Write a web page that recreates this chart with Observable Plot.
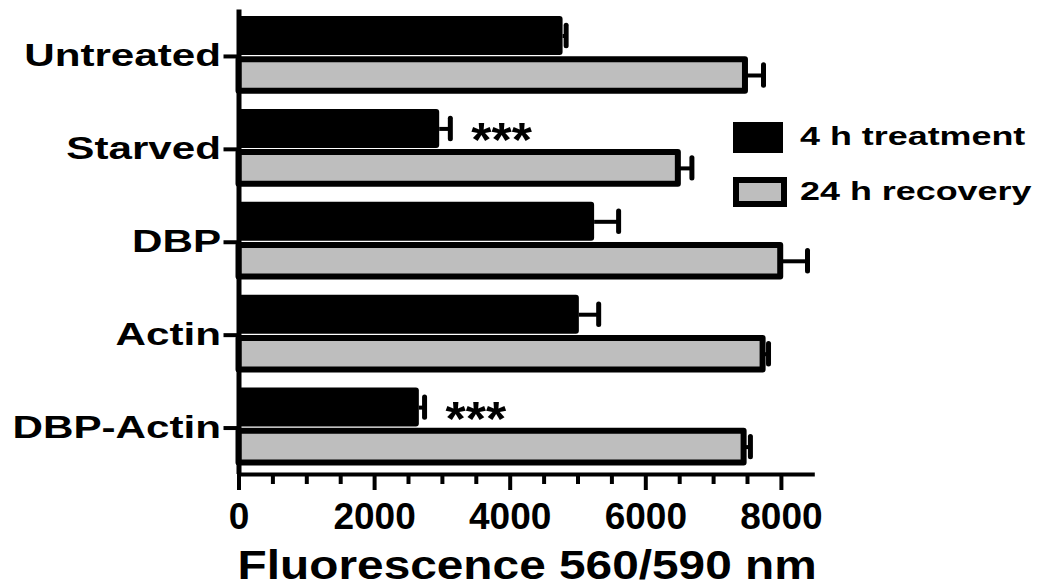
<!DOCTYPE html>
<html><head><meta charset="utf-8">
<script src="https://cdn.jsdelivr.net/npm/d3@7"></script>
<script src="https://cdn.jsdelivr.net/npm/@observablehq/plot@0.6"></script>
<style>
body{margin:0;background:#fff;}
#wrap{position:relative;width:1046px;height:588px;overflow:hidden;}
#legend{position:absolute;left:0;top:0;pointer-events:none;}
</style></head><body>
<div id="wrap"><div id="chart"></div><svg id="legend" width="1046" height="588"></svg></div>
<script>
// ---- data ----
const categories = ["Untreated", "Starved", "DBP", "Actin", "DBP-Actin"];
const seriesNames = ["4 h treatment", "24 h recovery"];
const treatment4h    = [4780, 2960, 5245, 5020, 2660];
const treatment4hErr = [45, 157, 354, 285, 77];
const recovery24h    = [7470, 6480, 7990, 7730, 7450];
const recovery24hErr = [266, 200, 395, 80, 93];
const significance   = ["", "***", "", "", "***"];
const xTicks = [0, 2000, 4000, 6000, 8000];
const xMinorTicks = [500, 1000, 1500, 2500, 3000, 3500, 4500, 5000, 5500, 6500, 7000, 7500];
const xTitle = "Fluorescence 560/590 nm";

// ---- layout within each category band (y units) ----
const slot = [
  {y1: -0.43, y2: -0.01, c: -0.22},   // 4 h treatment (black)
  {y1: 0.035, y2: 0.375, c: 0.205}    // 24 h recovery (grey)
];
const capHalf = 0.11;

const rows = categories.flatMap((cat, i) => [
  {cat, i, s: 0, value: treatment4h[i], err: treatment4hErr[i], sig: significance[i]},
  {cat, i, s: 1, value: recovery24h[i], err: recovery24hErr[i], sig: ""}
]);
const black = rows.filter(d => d.s === 0);
const grey = rows.filter(d => d.s === 1);

const plot = Plot.plot({
  width: 1046, height: 588,
  marginLeft: 238.5, marginRight: 231.2, marginTop: 9.5, marginBottom: 114,
  x: {domain: [0, 8500]},
  y: {domain: [-0.5, 4.5], reverse: true},
  style: {fontFamily: "'Liberation Sans', Arial, sans-serif", color: "black", background: "white", overflow: "visible"},
  marks: [
    Plot.rect(black, {x1: () => 0, x2: "value", y1: d => d.i + slot[0].y1, y2: d => d.i + slot[0].y2, fill: "black", rx: 3}),
    Plot.rect(grey, {x1: () => 0, x2: "value", y1: d => d.i + slot[1].y1, y2: d => d.i + slot[1].y2, fill: "#bebebe", stroke: "black", strokeWidth: 6, strokeLinejoin: "round"}),
    Plot.ruleY(rows, {y: d => d.i + slot[d.s].c, x1: "value", x2: d => d.value + d.err, stroke: "black", strokeWidth: 4}),
    Plot.ruleX(rows, {x: d => d.value + d.err, y1: d => d.i + slot[d.s].c - capHalf, y2: d => d.i + slot[d.s].c + capHalf, stroke: "black", strokeWidth: 5, strokeLinecap: "round"}),
    Plot.text(black.filter(d => d.sig), {x: d => d.value + d.err, y: d => d.i + slot[0].c, text: "sig", textAnchor: "start", lineAnchor: "middle", dx: 21, dy: 12, fontSize: 48, fontWeight: "bold"}),
    Plot.ruleX([0], {stroke: "black", strokeWidth: 5}),
    Plot.ruleY([4.5], {stroke: "black", strokeWidth: 4}),
    Plot.axisX({ticks: xMinorTicks, tickSize: 10, strokeWidth: 4, tickFormat: () => "", label: null}),
    Plot.axisX({ticks: xTicks, tickSize: 16, tickPadding: 12, strokeWidth: 4, tickFormat: d => String(d), fontSize: 37, fontWeight: "bold", label: null}),
    Plot.axisY({ticks: [0, 1, 2, 3, 4], tickFormat: i => categories[i], tickSize: 15, tickPadding: 3, strokeWidth: 4, fontSize: 31, fontWeight: "bold", label: null}),
    Plot.text([xTitle], {text: d => d, frameAnchor: "bottom", lineAnchor: "middle", dy: 92, fontSize: 40.5, fontWeight: "bold"})
  ]
});
document.getElementById("chart").appendChild(plot);

function stretch(nodes, k) {
  nodes.forEach(t => {
    const w = t.getComputedTextLength();
    t.setAttribute("textLength", w * k);
    t.setAttribute("lengthAdjust", "spacingAndGlyphs");
  });
}
stretch(plot.querySelectorAll('g[aria-label="y-axis tick label"] text'), 1.36);
const textGroups = plot.querySelectorAll('g[aria-label="text"]');
if (textGroups[0]) stretch(textGroups[0].querySelectorAll("text"), 1.08);
if (textGroups[1]) stretch(textGroups[1].querySelectorAll("text"), 1.18);

// ---- legend ----
const lg = d3.select("#legend");
lg.append("rect").attr("x", 733).attr("y", 122).attr("width", 50).attr("height", 31).attr("fill", "black");
lg.append("rect").attr("x", 736).attr("y", 180).attr("width", 48).attr("height", 24)
  .attr("fill", "#bebebe").attr("stroke", "black").attr("stroke-width", 6);
const legendTexts = lg.selectAll("text.lt").data(seriesNames).join("text")
  .attr("class", "lt")
  .attr("x", 800).attr("y", (d, i) => i === 0 ? 145 : 200)
  .attr("font-family", "'Liberation Sans', Arial, sans-serif")
  .attr("font-weight", "bold").attr("font-size", 26).attr("fill", "black")
  .text(d => d);
stretch(legendTexts.nodes(), 1.38);
</script>
</body></html>
